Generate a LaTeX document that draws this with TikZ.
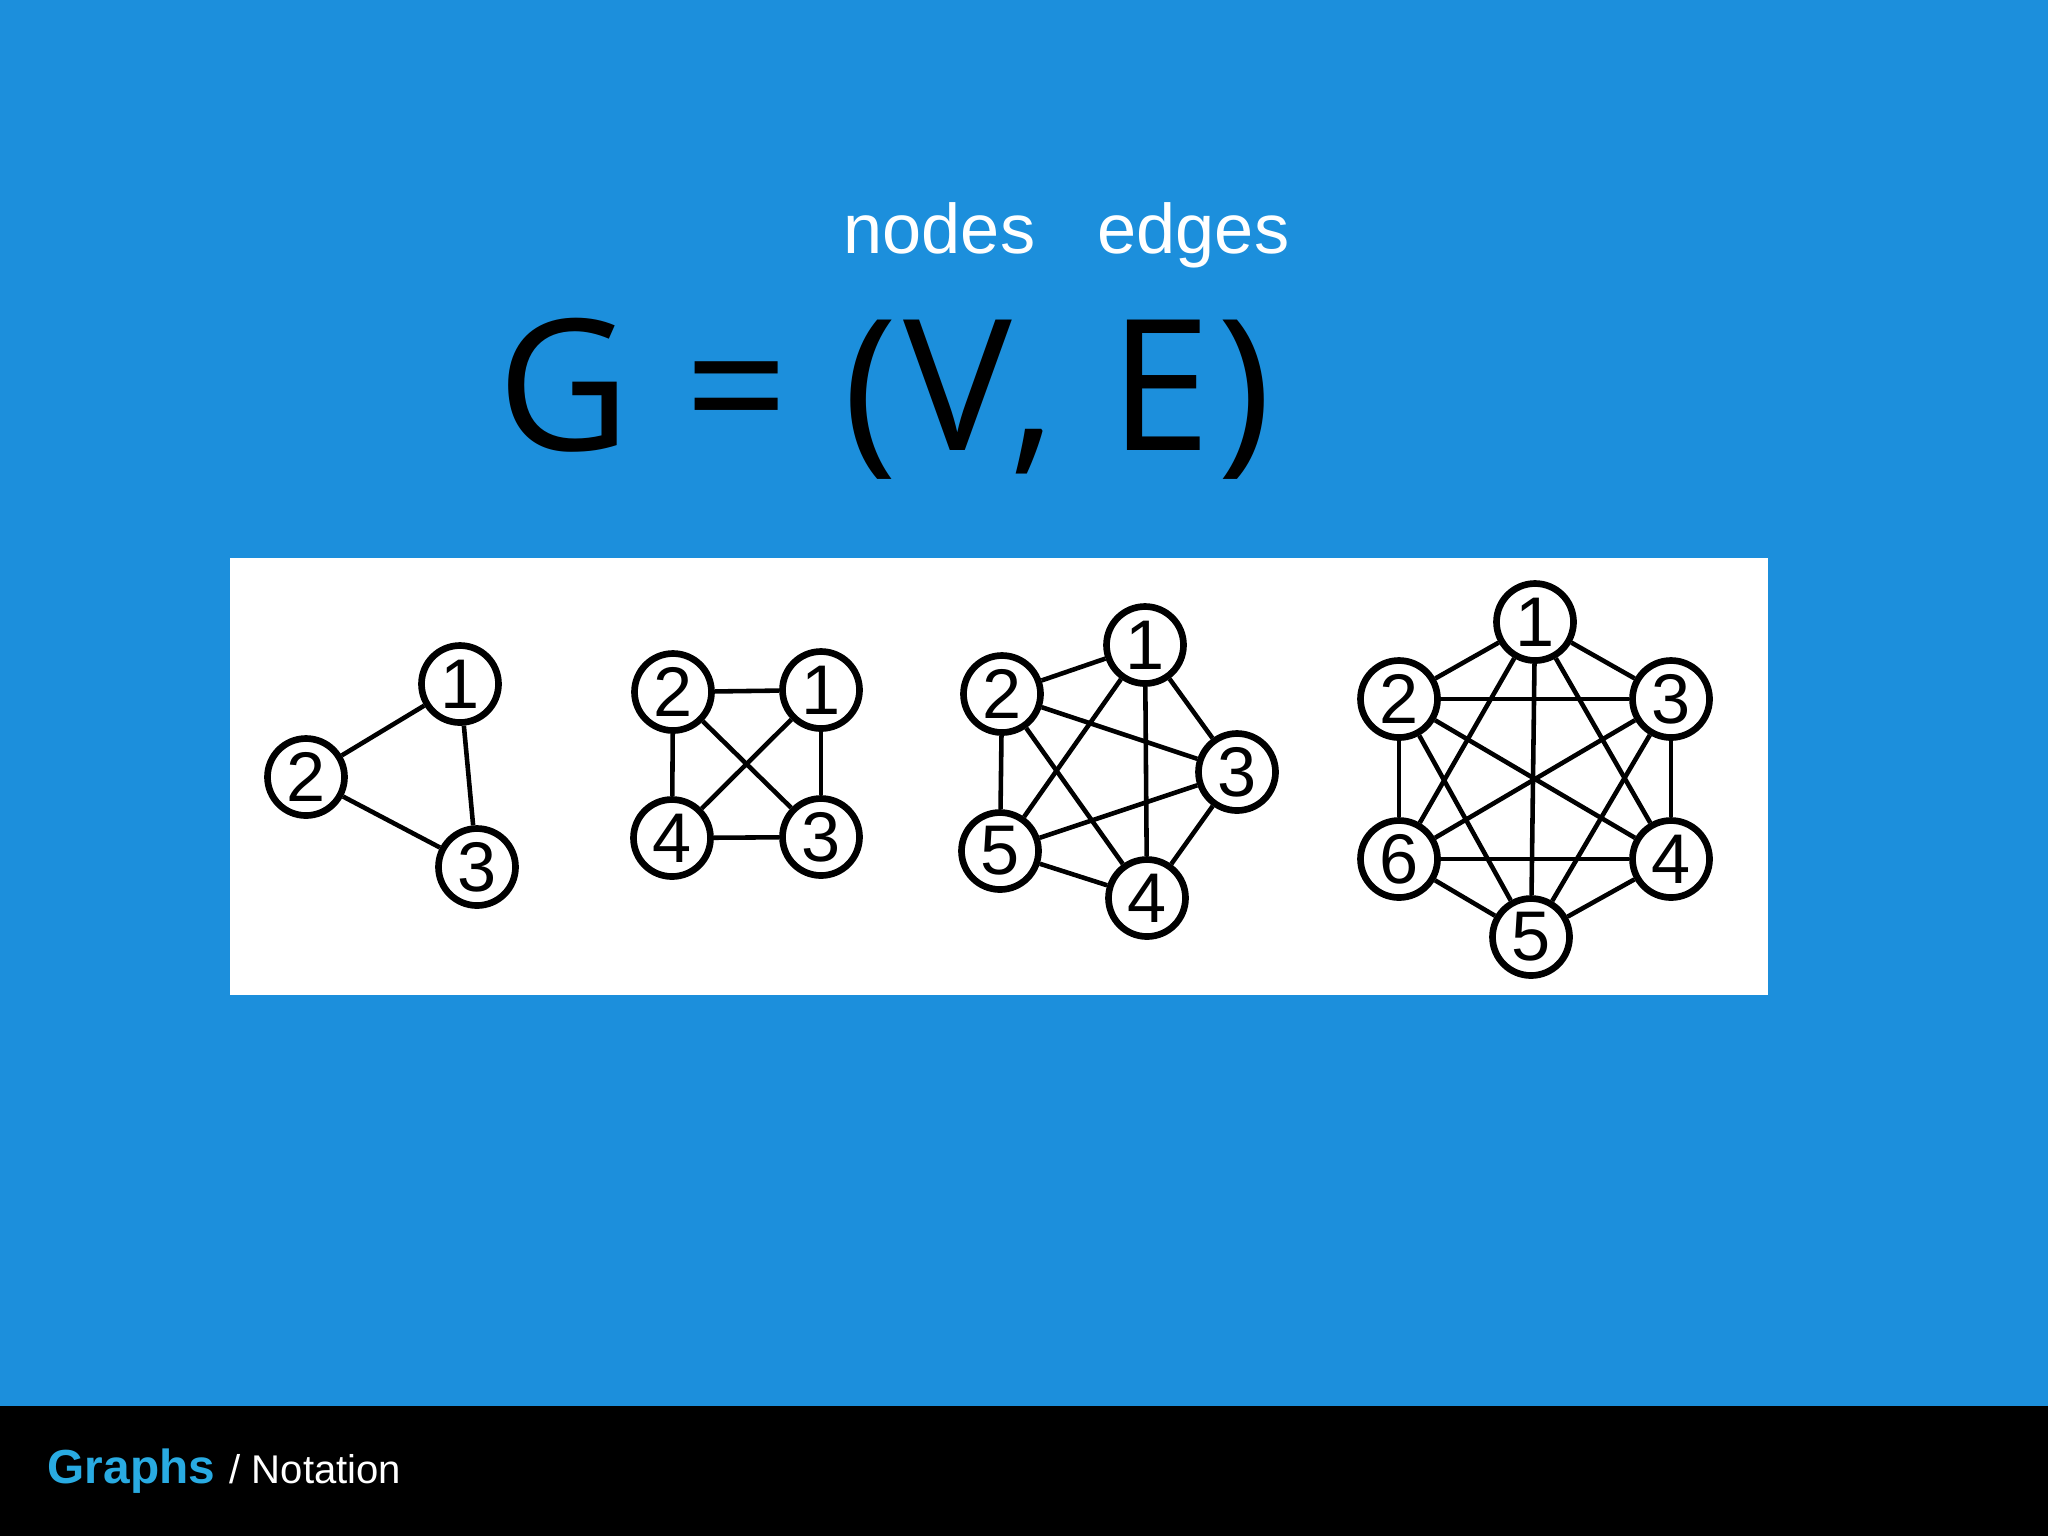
\documentclass[tikz,border=0pt]{standalone}
\usepackage{fontspec}
\setmainfont{Liberation Sans}
\newfontfamily\handfont[LetterSpace=3.6]{Open Sans}
\definecolor{slideblue}{RGB}{28,143,220}
\definecolor{titleblue}{RGB}{41,171,226}
\begin{document}
\begin{tikzpicture}[x=0.1mm, y=-0.1mm, every node/.style={font=\fontsize{20}{24}\selectfont}]
  \tikzstyle{vtx}=[draw, circle, fill=white, line width=1.9pt, inner sep=0pt, minimum size=7.7mm]
  \tikzstyle{edg}=[line width=1.3pt]
  \tikzstyle{lbl}=[anchor=base west, inner sep=0pt]
  \useasboundingbox (0,0) rectangle (2048,1536);
  \fill[slideblue] (0,0) rectangle (2048,1406);
  \fill[black] (0,1406) rectangle (2048,1536);
  \fill[white] (230,558) rectangle (1768,995);
  % notation
  \node[lbl, white] (nodes) at (843,253) {nodes};
  \node[lbl, white] (edges) at (1097,253) {edges};
  \node[lbl, font=\handfont\fontsize{52}{60}\selectfont] (eq) at (497,450) {G = (V, E)};
  % three vertices
  \node[vtx] (a1) at (460,684) {1};
  \node[vtx] (a2) at (306,777) {2};
  \node[vtx] (a3) at (477,867) {3};
  \draw[edg] (a1) -- (a2); \draw[edg] (a2) -- (a3); \draw[edg] (a1) -- (a3);
  % four vertices
  \node[vtx] (b1) at (821,690) {1};
  \node[vtx] (b2) at (673,692) {2};
  \node[vtx] (b3) at (821,837) {3};
  \node[vtx] (b4) at (672,838) {4};
  \draw[edg] (b2) -- (b1); \draw[edg] (b4) -- (b3);
  \draw[edg] (b2) -- (b4); \draw[edg] (b1) -- (b3);
  \draw[edg] (b2) -- (b3); \draw[edg] (b1) -- (b4);
  % five vertices
  \node[vtx] (c1) at (1145,645) {1};
  \node[vtx] (c2) at (1002,694) {2};
  \node[vtx] (c3) at (1237,772) {3};
  \node[vtx] (c4) at (1147,898) {4};
  \node[vtx] (c5) at (1000,851) {5};
  \foreach \a/\b in {1/2, 1/3, 1/4, 1/5, 2/3, 2/4, 2/5, 3/4, 3/5, 4/5}
    \draw[edg] (c\a) -- (c\b);
  % six vertices
  \node[vtx] (d1) at (1535,622) {1};
  \node[vtx] (d2) at (1399,699) {2};
  \node[vtx] (d3) at (1671,699) {3};
  \node[vtx] (d4) at (1671,859) {4};
  \node[vtx] (d5) at (1531,937) {5};
  \node[vtx] (d6) at (1399,859) {6};
  \foreach \a/\b in {1/2, 1/3, 1/4, 1/5, 1/6, 2/3, 2/4, 2/5, 2/6, 3/4, 3/5, 3/6, 4/5, 4/6, 5/6}
    \draw[edg] (d\a) -- (d\b);
  % footer
  \node[lbl, titleblue, font=\bfseries\fontsize{13.6}{16}\selectfont] (title) at (47,1483) {Graphs};
  \node[lbl, white, font=\fontsize{11.4}{14}\selectfont] (sub) at (229,1483) {/ Notation};
\end{tikzpicture}
\end{document}
